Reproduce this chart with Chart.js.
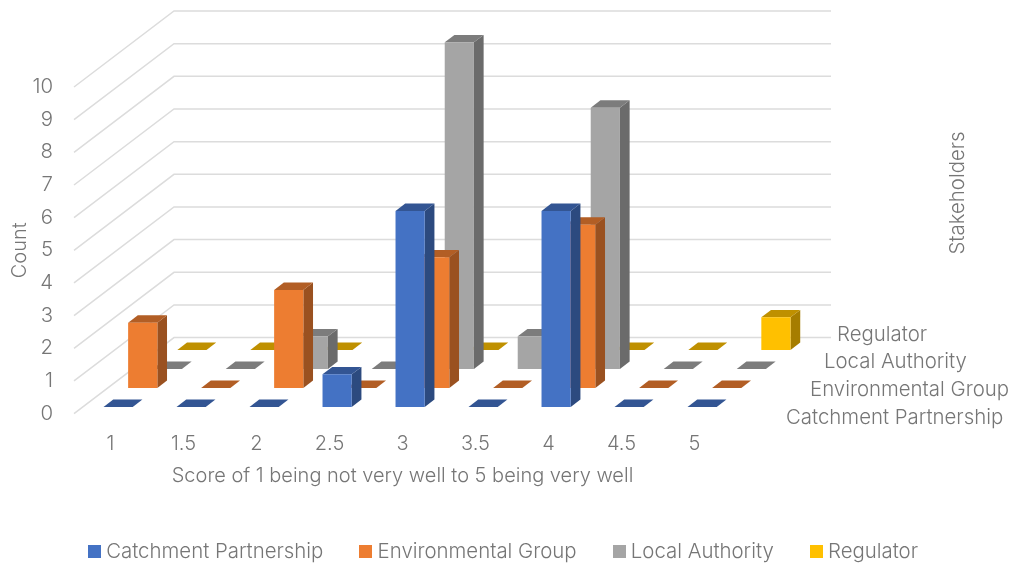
<!DOCTYPE html>
<html>
<head>
<meta charset="utf-8">
<style>html,body{margin:0;padding:0;background:#fff}#wrap{width:1011px;height:565px}</style>
<script src="https://cdn.jsdelivr.net/npm/chart.js@4/dist/chart.umd.min.js"></script>
</head>
<body>
<div id="wrap"><canvas id="c" width="1011" height="565"></canvas></div>
<script>
// Scores given by each stakeholder group
const scores = ['1', '1.5', '2', '2.5', '3', '3.5', '4', '4.5', '5'];
const catchmentPartnership = [0, 0, 0, 1, 6, 0, 6, 0, 0];
const environmentalGroup = [2, 0, 3, 0, 4, 0, 5, 0, 0];
const localAuthority = [0, 0, 1, 0, 10, 1, 8, 0, 0];
const regulator = [0, 0, 0, 0, 0, 0, 0, 0, 1];
const stakeholders = ['Catchment Partnership', 'Environmental Group', 'Local Authority', 'Regulator'];

// Face colours per series: front, top, side
const frontColours = ['#4472C4', '#ED7D31', '#A5A5A5', '#FFC000'];
const topColours = ['#335593', '#B25E25', '#7C7C7C', '#BF9000'];
const sideColours = ['#2C4A7F', '#9A5120', '#6B6B6B', '#A67D00'];

// Oblique projection of the depth axis
const FLOOR_DX = 100, FLOOR_DY = 76;
const ROW_DX = 24.6, ROW_DY = 19;
const ROW_START_X = 0.31, ROW_START_Y = 0.35;
const BAR_DX = 9.7, BAR_DY = 7.4;

const TEXT = '#767676';
const FONT = 'Inter, "Liberation Sans", sans-serif';
const GRID = '#DCDCDC';
const SIZE = 20.4;

// Depth axis labels: left edge and middle height of each row's name
const depthLabelX = [786, 810, 824, 837];
const depthLabelY = [418, 390, 362, 335];

function legendSwatch(colour) {
  const s = document.createElement('canvas');
  s.width = 13; s.height = 13;
  const g = s.getContext('2d');
  g.fillStyle = colour;
  g.fillRect(0, 0, 13, 13);
  return s;
}
const swatches = frontColours.map(legendSwatch);

const depthChart = {
  id: 'depthChart',
  beforeDatasetsDraw(chart) {
    const { ctx, chartArea: a, scales: { y } } = chart;
    ctx.save();
    ctx.strokeStyle = GRID;
    ctx.lineWidth = 1.5;
    for (const v of y.ticks.map(t => t.value)) {
      const py = y.getPixelForValue(v);
      ctx.beginPath();
      ctx.moveTo(a.left, py);
      ctx.lineTo(a.left + FLOOR_DX, py - FLOOR_DY);
      ctx.lineTo(a.right + FLOOR_DX, py - FLOOR_DY);
      ctx.stroke();
    }
    ctx.fillStyle = TEXT;
    ctx.font = '300 ' + SIZE + 'px ' + FONT;
    ctx.textBaseline = 'middle';
    ctx.textAlign = 'left';
    stakeholders.forEach((name, i) => ctx.fillText(name, depthLabelX[i], depthLabelY[i]));
    ctx.translate(958, 193);
    ctx.rotate(-Math.PI / 2);
    ctx.textAlign = 'center';
    ctx.fillText('Stakeholders', 0, 0);
    ctx.restore();
  },
  beforeDatasetDraw(chart, { index, meta }) {
    const { ctx } = chart;
    ctx.save();
    ctx.translate((index + ROW_START_X) * ROW_DX, -(index + ROW_START_Y) * ROW_DY);
    for (const el of meta.data) {
      const { x, y, base, width } = el.getProps(['x', 'y', 'base', 'width'], true);
      const l = x - width / 2, r = x + width / 2;
      if (base - y > 0.5) {
        ctx.fillStyle = sideColours[index];
        ctx.beginPath();
        ctx.moveTo(r, y);
        ctx.lineTo(r + BAR_DX, y - BAR_DY);
        ctx.lineTo(r + BAR_DX, base - BAR_DY);
        ctx.lineTo(r, base);
        ctx.closePath();
        ctx.fill();
      }
      ctx.fillStyle = topColours[index];
      ctx.beginPath();
      ctx.moveTo(l, y);
      ctx.lineTo(l + BAR_DX, y - BAR_DY);
      ctx.lineTo(r + BAR_DX, y - BAR_DY);
      ctx.lineTo(r, y);
      ctx.closePath();
      ctx.fill();
    }
  },
  afterDatasetDraw(chart) {
    chart.ctx.restore();
  }
};

const series = [catchmentPartnership, environmentalGroup, localAuthority, regulator];

new Chart(document.getElementById('c'), {
  type: 'bar',
  data: {
    labels: scores,
    datasets: series.map((values, i) => ({
      label: stakeholders[i],
      data: values,
      backgroundColor: frontColours[i],
      clip: false
    }))
  },
  plugins: [depthChart],
  options: {
    responsive: false,
    animation: false,
    grouped: false,
    barPercentage: 0.4,
    categoryPercentage: 1,
    layout: { padding: { left: 0, right: 0, top: 87, bottom: -7 } },
    scales: {
      x: {
        grid: { display: false },
        border: { display: false },
        afterFit(s) { s.height = 87; },
        ticks: { color: TEXT, font: { family: FONT, size: 20, weight: '300' }, padding: 10, maxRotation: 0, autoSkip: false },
        title: {
          display: true,
          text: 'Score of 1 being not very well to 5 being very well',
          color: TEXT,
          font: { family: FONT, size: 20, weight: '300' },
          padding: { top: 9, bottom: 13 }
        }
      },
      y: {
        min: 0,
        max: 10,
        grid: { display: false },
        border: { display: false },
        afterFit(s) { s.width = 74; },
        ticks: { stepSize: 1, autoSkip: false, color: TEXT, font: { family: FONT, size: SIZE, weight: '300' }, padding: 13 },
        title: {
          display: true,
          text: 'Count',
          color: TEXT,
          font: { family: FONT, size: 20, weight: '300' },
          padding: { top: 8, bottom: 0 }
        }
      },
      // Empty right-hand axis that reserves the space taken by the depth axis
      depthSpace: {
        position: 'right',
        display: true,
        afterFit(s) { s.width = 280; },
        grid: { display: false },
        border: { display: false },
        ticks: { display: false }
      }
    },
    plugins: {
      tooltip: { enabled: false },
      legend: {
        position: 'bottom',
        labels: {
          color: TEXT,
          font: { family: FONT, size: SIZE, weight: '300' },
          usePointStyle: true,
          pointStyleWidth: 3,
          padding: 41,
          generateLabels(chart) {
            return chart.data.datasets.map((d, i) => ({
              text: d.label,
              datasetIndex: i,
              pointStyle: swatches[i],
              fontColor: TEXT,
              hidden: false
            }));
          }
        }
      }
    }
  }
});
</script>
</body>
</html>
